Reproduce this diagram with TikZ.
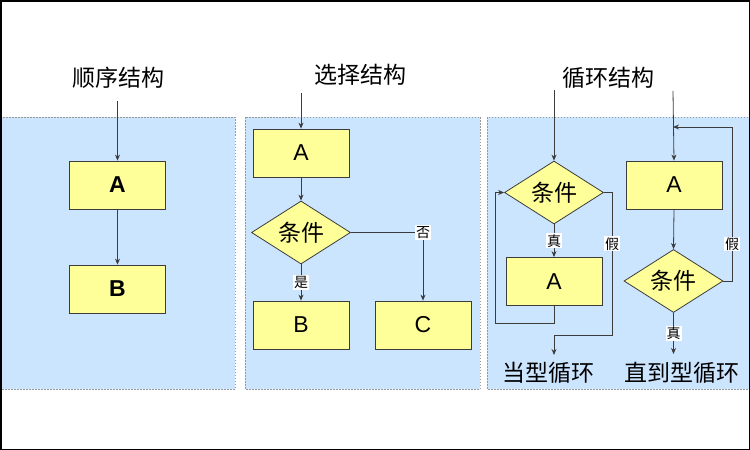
\documentclass[tikz,border=0pt]{standalone}
\usepackage{fontspec}
\setmainfont{Liberation Sans}
\newfontfamily\cjk{Noto Sans CJK SC}
\usepackage{xcolor}
\usetikzlibrary{shapes.geometric,arrows.meta}
\definecolor{panelblue}{RGB}{204,229,255}
\definecolor{boxyellow}{RGB}{255,255,153}
\definecolor{linegray}{RGB}{60,60,60}

\begin{document}
\begin{tikzpicture}[x=1pt, y=-1pt,
  panel/.style={fill=panelblue, draw=gray!80, dash pattern=on 1.5pt off 1.5pt, line width=0.8pt},
  box/.style={draw=linegray, fill=boxyellow, line width=0.8pt, minimum width=96pt, minimum height=48pt, inner sep=0pt, font=\fontsize{23}{23}\selectfont},
  cond/.style={diamond, draw=linegray, fill=boxyellow, line width=0.8pt, minimum width=99pt, minimum height=63pt, aspect=1.57, inner sep=0pt, font=\cjk\fontsize{23}{23}\selectfont},
  title/.style={font=\cjk\fontsize{23}{23}\selectfont, inner sep=0pt},
  lbl/.style={font=\cjk\fontsize{14}{14}\selectfont, fill=white, inner sep=1pt},
  arr/.style={draw=linegray, line width=0.8pt, -{Stealth[length=6pt, width=5pt]}},
  ln/.style={draw=linegray, line width=0.8pt}]
  \useasboundingbox (0,0) rectangle (750,450);
  \fill[white] (0,0) rectangle (750,450);
  % panels
  \draw[panel] (1,117) rectangle (235,389);
  \draw[panel] (245,117) rectangle (480,389);
  \draw[panel] (487,117) rectangle (752,389);
  % sequence
  \node[title] (seqtitle) at (118,78) {顺序结构};
  \coordinate (seqin) at (117.5,101);
  \node[box, font=\fontsize{23}{23}\selectfont\bfseries] (seqa) at (117.5,185) {A};
  \node[box, font=\fontsize{23}{23}\selectfont\bfseries] (seqb) at (117.5,289) {B};
  \draw[arr] (seqin) -- (seqa.north);
  \draw[arr] (seqa.south) -- (seqb.north);
  % selection
  \node[title] (seltitle) at (360,75) {选择结构};
  \coordinate (selin) at (301,93);
  \node[box] (sela) at (301,153) {A};
  \node[cond] (selc) at (301,232.5) {条件};
  \node[box] (selb) at (301,325) {B};
  \node[box] (selcc) at (423,325) {C};
  \draw[arr] (selin) -- (sela.north);
  \draw[arr] (sela.south) -- (selc.north);
  \draw[arr] (selc.south) -- node[lbl] {是} (selb.north);
  \draw[arr] (selc.east) -| node[lbl, pos=0.5] {否} (selcc.north);
  % loops
  \node[title] (looptitle) at (608,78) {循环结构};
  % while loop
  \coordinate (whin) at (554,90);
  \node[cond] (whc) at (554,192.5) {条件};
  \node[box] (wha) at (554,281.5) {A};
  \coordinate (whback) at (495,323);
  \coordinate (whout) at (612,335);
  \coordinate (whend) at (554,355);
  \node[title] (whtext) at (548,373) {当型循环};
  \draw[arr] (whin) -- (whc.north);
  \draw[arr] (whc.south) -- node[lbl] {真} (wha.north);
  \draw[arr] (wha.south) |- (whback) |- (whc.west);
  \draw[arr] (whc.east) -| node[lbl, pos=0.68] {假} (whout) -| (whend);
  % until loop
  \coordinate (unin) at (673,91);
  \coordinate (unjoin) at (673,127);
  \coordinate (unback) at (732,127);
  \node[box] (una) at (674,185) {A};
  \node[cond] (unc) at (673.5,281) {条件};
  \coordinate (unend) at (673.5,354);
  \node[title] (untext) at (682,373) {直到型循环};
  \draw[arr] (unin) -- (una.north);
  \draw[arr] (una.south) -- (unc.north);
  \draw[arr] (unc.east) -| node[lbl, pos=0.62] {假} (unback) -- (unjoin);
  \draw[arr] (unc.south) -- node[lbl] {真} (unend);
  % frame
  \draw[black, line width=1.5pt] (0.75,0.75) rectangle (749.25,449.25);
\end{tikzpicture}
\end{document}
